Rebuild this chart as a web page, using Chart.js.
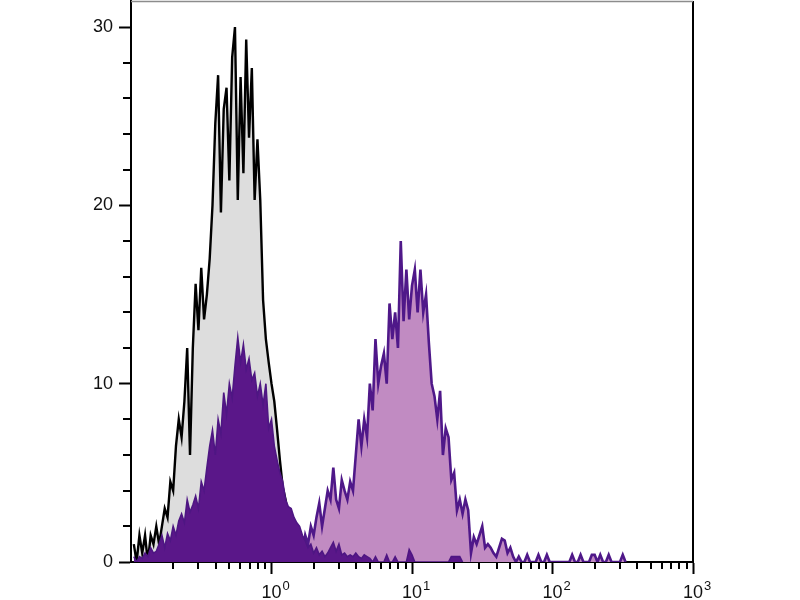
<!DOCTYPE html>
<html><head><meta charset="utf-8">
<script src="https://cdn.jsdelivr.net/npm/chart.js@4.4.1/dist/chart.umd.min.js"></script>
<style>html,body{margin:0;padding:0;background:#fff}#wrap{width:800px;height:600px}</style>
</head><body><div id="wrap"><canvas id="c" width="800" height="600"></canvas></div>
<script>
// Histogram channels: log10 position of first channel and channel width (decades)
const channelStartExp = -0.98;
const channelStepExp = 0.02;

// Isotype / control (grey fill, black outline)
const isotypeCounts = [1,0,1.5,0.5,1.5,0,1.5,1,2,1,
  2,3,2.5,4.5,4,6.5,8,7,9,12,
  6,12,15.6,13,16.5,13.6,15,17,20,24.6,
  27.3,19.6,25.4,26.6,21.4,28.3,30,20.3,27.2,21.8,
  29.3,23.8,27.7,20.3,23.7,20.3,14.7,12.5,11.2,10,
  9,7.4,5.7,4.2,3.5,2.5,1.5,1,0.5,0,0];
const isotypeOffset = 0;

// Stained sample, low population (dark purple)
const lowPeakCounts = [0.3,0,0.3,0.2,0.5,0.3,0.8,0.5,0.6,1,
  1.5,0.8,1.6,1.2,2,1.5,2.3,2.7,2.2,3.5,
  2.8,3.2,3.7,3,4.5,4,5.3,6.5,7.4,6,
  8,7.2,9.5,8.3,10,9.2,11,12.6,11.2,12.2,
  10.8,11.4,10.2,10.6,9.3,10,8.8,10,7.5,8,
  6.5,5.7,5,4.5,3.5,3.1,3,2.5,2.2,2,
  1.5,1.2,0.8,1,0.5,0.8,0.4,0.6,0.3,0.5,
  0.8,1.1,0.6,1,0.4,0.5,0.3,0.4,0.3,0.5,
  0.3,0.2,0.4,0.3,0.2,0,0.3,0,0,0,
  0.4,0,0,0.3,0,0,0,0,0.7,0.4,
  0,0,0,0,0,0,0,0,0,0,
  0,0,0,0.3,0.3,0.3,0.3,0];
const lowPeakOffset = 0;

// Stained sample, high population (light purple)
const highPeakCounts = [0.5,1,0.5,1.5,1,2,1.5,2.5,3.3,2,
  3,4,3.5,5.3,3.5,3,4.6,4,3.5,4.5,
  4,6,8,6.5,8,7,10,8.5,12.5,10,
  11,11.7,10,14.5,12.5,14,12,18,13.5,16.4,
  13.6,15.5,16.4,14,16.4,14,15,12.3,10,9.3,
  8,9.6,6,7.5,7,4.6,5,2.9,3.5,2.7,
  3.5,2.9,0.5,1.4,1,1.5,2,0.8,1,0.8,
  0.5,0.3,0.8,1.3,1.2,0.5,0.8,0.3,0,0.3,
  0,0,0.4,0,0,0,0.4,0,0,0.4,
  0,0,0,0,0,0,0,0,0.4,0,
  0,0.4,0,0,0,0.4,0.4,0,0.4,0,
  0,0.4,0,0,0,0,0.4,0];
const highPeakOffset = 58;

const xTickValues = [0.2,0.3,0.4,0.5,0.6,0.7,0.8,0.9,1,
  2,3,4,5,6,7,8,9,10,
  20,30,40,50,60,70,80,90,100,
  200,300,400,500,600,700,800,900,1000];
const xMajorValues = [1,10,100,1000];
const xTickBase = '10';
const xTickExponents = ['0','1','2','3'];
const yTickValues = [0,2,4,6,8,10,12,14,16,18,20,22,24,26,28,30];
const yMajorValues = [0,10,20,30];

function toPoints(counts, offset){
  return counts.map((c,i)=>({x: Math.pow(10, channelStartExp + channelStepExp*(offset+i)), y: c}));
}
const majorIndexX = v => xMajorValues.findIndex(m => Math.abs(m - v) < 1e-9*m);
const isMajorX = v => majorIndexX(v) >= 0;
const isMajorY = v => yMajorValues.includes(v);

const FONT_FAMILY = '"Liberation Sans", Arial, sans-serif';
const TICK_SIZE = 18;
const EXP_SIZE = 13;

const frameAndMinor = {
  id: 'frameAndMinor',
  afterDraw(chart){
    const {ctx, chartArea, scales:{x, y}} = chart;
    ctx.save();
    ctx.strokeStyle = '#000'; ctx.lineWidth = 2;
    x.ticks.forEach(t => {
      if (isMajorX(t.value)) return;
      const px = Math.round(x.getPixelForValue(t.value));
      ctx.beginPath(); ctx.moveTo(px, chartArea.bottom); ctx.lineTo(px, chartArea.bottom + 7); ctx.stroke();
    });
    y.ticks.forEach(t => {
      if (isMajorY(t.value)) return;
      const py = Math.round(y.getPixelForValue(t.value));
      ctx.beginPath(); ctx.moveTo(chartArea.left, py); ctx.lineTo(chartArea.left - 8, py); ctx.stroke();
    });
    ctx.strokeStyle = '#000'; ctx.lineWidth = 2;
    ctx.beginPath(); ctx.moveTo(chartArea.right, chartArea.top); ctx.lineTo(chartArea.right, chartArea.bottom); ctx.stroke();
    ctx.strokeStyle = '#8c8c8c'; ctx.lineWidth = 1.5;
    ctx.beginPath(); ctx.moveTo(chartArea.left, chartArea.top + 0.5); ctx.lineTo(chartArea.right, chartArea.top + 0.5); ctx.stroke();
    // exponents of the decade labels
    ctx.fillStyle = '#111';
    ctx.textBaseline = 'alphabetic'; ctx.textAlign = 'left';
    ctx.font = TICK_SIZE + 'px ' + FONT_FAMILY;
    const baseW = ctx.measureText(xTickBase).width;
    ctx.font = EXP_SIZE + 'px ' + FONT_FAMILY;
    xMajorValues.forEach((m, i) => {
      const px = x.getPixelForValue(m);
      ctx.fillText(xTickExponents[i], px + baseW/2 + 1, chartArea.bottom + 28);
    });
    ctx.restore();
  }
};

const font = {family: FONT_FAMILY, size: TICK_SIZE};

new Chart(document.getElementById('c'), {
  type: 'line',
  data: {
    datasets: [
      {label: 'low', data: toPoints(lowPeakCounts, lowPeakOffset), order: 0,
       backgroundColor: '#5a1789', borderColor: '#4e1683', borderWidth: 1.6, fill: 'origin'},
      {label: 'high', data: toPoints(highPeakCounts, highPeakOffset), order: 1,
       backgroundColor: '#c18bc2', borderColor: '#4f1889', borderWidth: 2.6, fill: 'origin'},
      {label: 'isotype', data: toPoints(isotypeCounts, isotypeOffset), order: 2,
       backgroundColor: '#dddddd', borderColor: '#000000', borderWidth: 2.4, fill: 'origin'}
    ]
  },
  options: {
    responsive: false, animation: false, devicePixelRatio: 1,
    layout: {padding: {left: 0, right: 107, top: 1, bottom: 0}},
    elements: {point: {radius: 0}, line: {tension: 0}},
    plugins: {legend: {display: false}, tooltip: {enabled: false}},
    scales: {
      x: {
        type: 'logarithmic', min: 0.1, max: 1000,
        afterBuildTicks: s => { s.ticks = xTickValues.map(v => ({value: v})); },
        afterFit: s => { s.height = 38; s.paddingLeft = 0; s.paddingRight = 0; },
        border: {display: true, color: '#000', width: 2},
        grid: {display: true, drawOnChartArea: false, drawTicks: true, tickLength: 12, tickWidth: 2,
               tickColor: c => (c.tick && isMajorX(c.tick.value)) ? '#000' : 'rgba(0,0,0,0)'},
        ticks: {autoSkip: false, maxRotation: 0, padding: 8, color: '#111', font: font,
                callback: v => isMajorX(v) ? xTickBase : ''}
      },
      y: {
        type: 'linear', min: 0, max: 31.46,
        afterBuildTicks: s => { s.ticks = yTickValues.map(v => ({value: v})); },
        afterFit: s => { s.width = 131; s.paddingTop = 0; s.paddingBottom = 0; },
        border: {display: true, color: '#000', width: 2},
        grid: {display: true, drawOnChartArea: false, drawTicks: true, tickLength: 12, tickWidth: 2,
               tickColor: c => (c.tick && isMajorY(c.tick.value)) ? '#000' : 'rgba(0,0,0,0)'},
        ticks: {autoSkip: false, padding: 6, color: '#111', font: font,
                callback: v => isMajorY(v) ? String(v) : ''}
      }
    }
  },
  plugins: [frameAndMinor]
});
</script></body></html>
